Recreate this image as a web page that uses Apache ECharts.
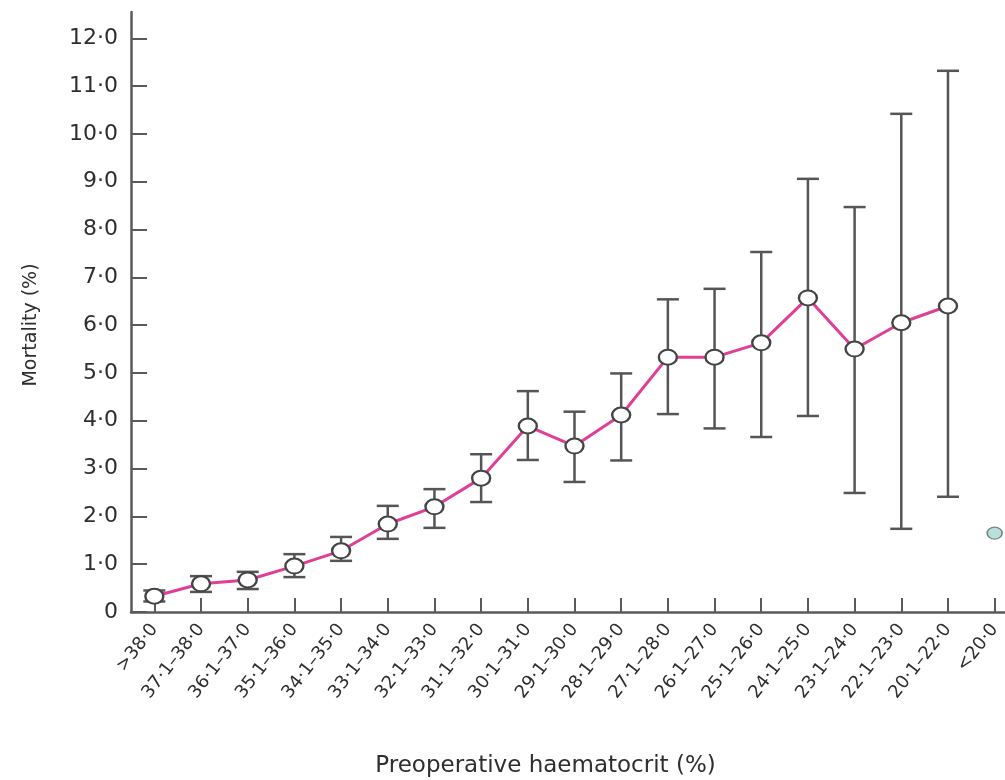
<!DOCTYPE html>
<html>
<head>
<meta charset="utf-8">
<script src="https://cdn.jsdelivr.net/npm/echarts@6/dist/echarts.min.js"></script>
<style>html,body{margin:0;padding:0;background:#fff;overflow:hidden;width:1005px;height:780px;}#chart{width:1018px;height:780px;}</style>
</head>
<body>
<div id="chart"></div>
<script>
const categories = [">38·0","37·1–38·0","36·1–37·0","35·1–36·0","34·1–35·0","33·1–34·0","32·1–33·0","31·1–32·0","30·1–31·0","29·1–30·0","28·1–29·0","27·1–28·0","26·1–27·0","25·1–26·0","24·1–25·0","23·1–24·0","22·1–23·0","20·1–22·0","<20·0"];
const mortality = [0.33,0.59,0.67,0.96,1.28,1.84,2.2,2.8,3.89,3.47,4.12,5.33,5.33,5.63,6.57,5.5,6.05,6.4];
const lower = [0.22,0.42,0.48,0.73,1.07,1.53,1.76,2.3,3.18,2.72,3.17,4.14,3.84,3.66,4.1,2.49,1.74,2.41];
const upper = [0.45,0.75,0.84,1.21,1.57,2.22,2.57,3.3,4.62,4.19,4.99,6.54,6.76,7.53,9.06,8.47,10.42,11.32];
const lastCategory = "<20·0";
const lastValue = 1.65;
const yTicks = [0,1,2,3,4,5,6,7,8,9,10,11,12];

const font = 'DejaVu Sans';
const chart = echarts.init(document.getElementById('chart'), null, {renderer:'canvas'});
const errData = mortality.map((v,i)=>[i, lower[i], upper[i]]);

chart.setOption({
  animation:false,
  backgroundColor:'#ffffff',
  grid:{left:131, top:12, bottom:168, right:0, containLabel:false, outerBoundsMode:'none'},
  xAxis:{
    type:'category',
    data:categories,
    boundaryGap:true,
    axisLine:{show:true, lineStyle:{color:'#5a5a5a', width:2.5}},
    axisTick:{show:true, alignWithLabel:true, inside:true, length:14, lineStyle:{color:'#5a5a5a', width:2}},
    axisLabel:{rotate:52, margin:14, fontFamily:font, fontSize:18, color:'#2e2e2e', interval:0},
    name:'Preoperative haematocrit (%)',
    nameLocation:'middle',
    nameGap:143,
    nameTextStyle:{fontFamily:font, fontSize:23, color:'#2e2e2e', padding:[0,58,0,0]}
  },
  yAxis:{
    type:'value',
    min:0, max:12.55, interval:1,
    splitLine:{show:false},
    axisLine:{show:true, lineStyle:{color:'#5a5a5a', width:2.5}},
    axisTick:{show:true, inside:true, length:16, customValues:yTicks, lineStyle:{color:'#5a5a5a', width:2}},
    axisLabel:{
      customValues:yTicks,
      margin:13, fontFamily:font, fontSize:22, color:'#2e2e2e',
      formatter:function(v){ if (Math.abs(v-Math.round(v))>1e-6) return ''; return v===0 ? '0' : v.toFixed(1).replace('.', '·'); }
    },
    name:'Mortality (%)',
    nameLocation:'middle',
    nameGap:90,
    nameTextStyle:{fontFamily:font, fontSize:19, color:'#2e2e2e', padding:[0,26,0,0]}
  },
  series:[
    {
      type:'custom',
      z:2,
      data:errData,
      renderItem:function(params, api){
        const x = api.value(0);
        const pLo = api.coord([x, api.value(1)]);
        const pHi = api.coord([x, api.value(2)]);
        const hw = 11;
        const st = {stroke:'#555', lineWidth:2.5};
        return {type:'group', children:[
          {type:'line', shape:{x1:pLo[0], y1:pLo[1], x2:pHi[0], y2:pHi[1]}, style:st},
          {type:'line', shape:{x1:pHi[0]-hw, y1:pHi[1], x2:pHi[0]+hw, y2:pHi[1]}, style:st},
          {type:'line', shape:{x1:pLo[0]-hw, y1:pLo[1], x2:pLo[0]+hw, y2:pLo[1]}, style:st}
        ]};
      }
    },
    {
      type:'line',
      z:3,
      data:mortality,
      symbol:'circle',
      symbolSize:[18,15],
      showAllSymbol:true,
      lineStyle:{color:'#df3f97', width:3},
      itemStyle:{color:'#ffffff', borderColor:'#444', borderWidth:2.2}
    },
    {
      type:'scatter',
      z:3,
      data:[[lastCategory, lastValue]],
      symbol:'circle',
      symbolSize:[15,12],
      itemStyle:{color:'#a9d8d2', borderColor:'#5f6f6d', borderWidth:1.5}
    }
  ]
});
</script>
</body>
</html>
